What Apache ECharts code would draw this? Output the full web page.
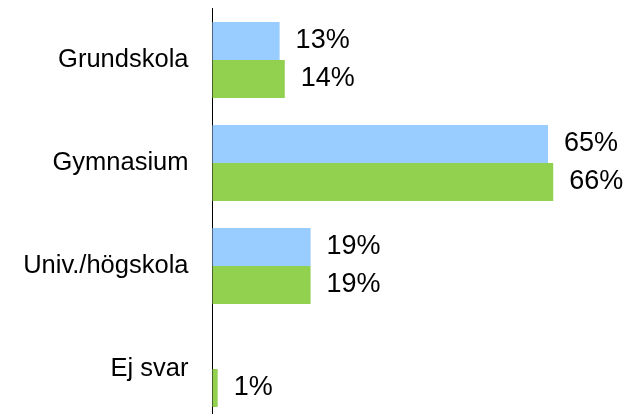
<!DOCTYPE html>
<html>
<head>
<meta charset="utf-8">
<script src="https://cdn.jsdelivr.net/npm/echarts@6/dist/echarts.min.js"></script>
<style>html,body{margin:0;padding:0;background:#fff}#c{width:628px;height:414px}</style>
</head>
<body>
<div id="c"></div>
<script>
var categories = ['Grundskola', 'Gymnasium', 'Univ./högskola', 'Ej svar'];
var seriesA = [13, 65, 19, null];
var seriesB = [14, 66, 19, 1];

var chart = echarts.init(document.getElementById('c'), null, {renderer: 'canvas'});
var labelStyle = {
  show: true, position: 'right', distance: 16,
  formatter: '{c}%', color: '#000',
  fontFamily: 'Liberation Sans, Arial, sans-serif', fontSize: 27
};
chart.setOption({
  animation: false,
  grid: {left: 212.5, top: 8.5, right: 2.5, bottom: -6.5, containLabel: false, outerBoundsMode: 'none'},
  xAxis: {type: 'value', min: 0, max: 80, show: false},
  yAxis: {
    type: 'category', data: categories, inverse: true,
    axisLine: {show: true, lineStyle: {color: '#000', width: 1}},
    axisTick: {show: false},
    axisLabel: {margin: 24, color: '#000', fontFamily: 'Liberation Sans, Arial, sans-serif', fontSize: 25.5},
    splitLine: {show: false}
  },
  series: [
    {type: 'bar', data: seriesA, barWidth: 38, barGap: '0%', itemStyle: {color: '#99CCFF'}, label: labelStyle},
    {type: 'bar', data: seriesB, barWidth: 38, barGap: '0%', itemStyle: {color: '#92D050'}, label: labelStyle}
  ]
});
</script>
</body>
</html>
